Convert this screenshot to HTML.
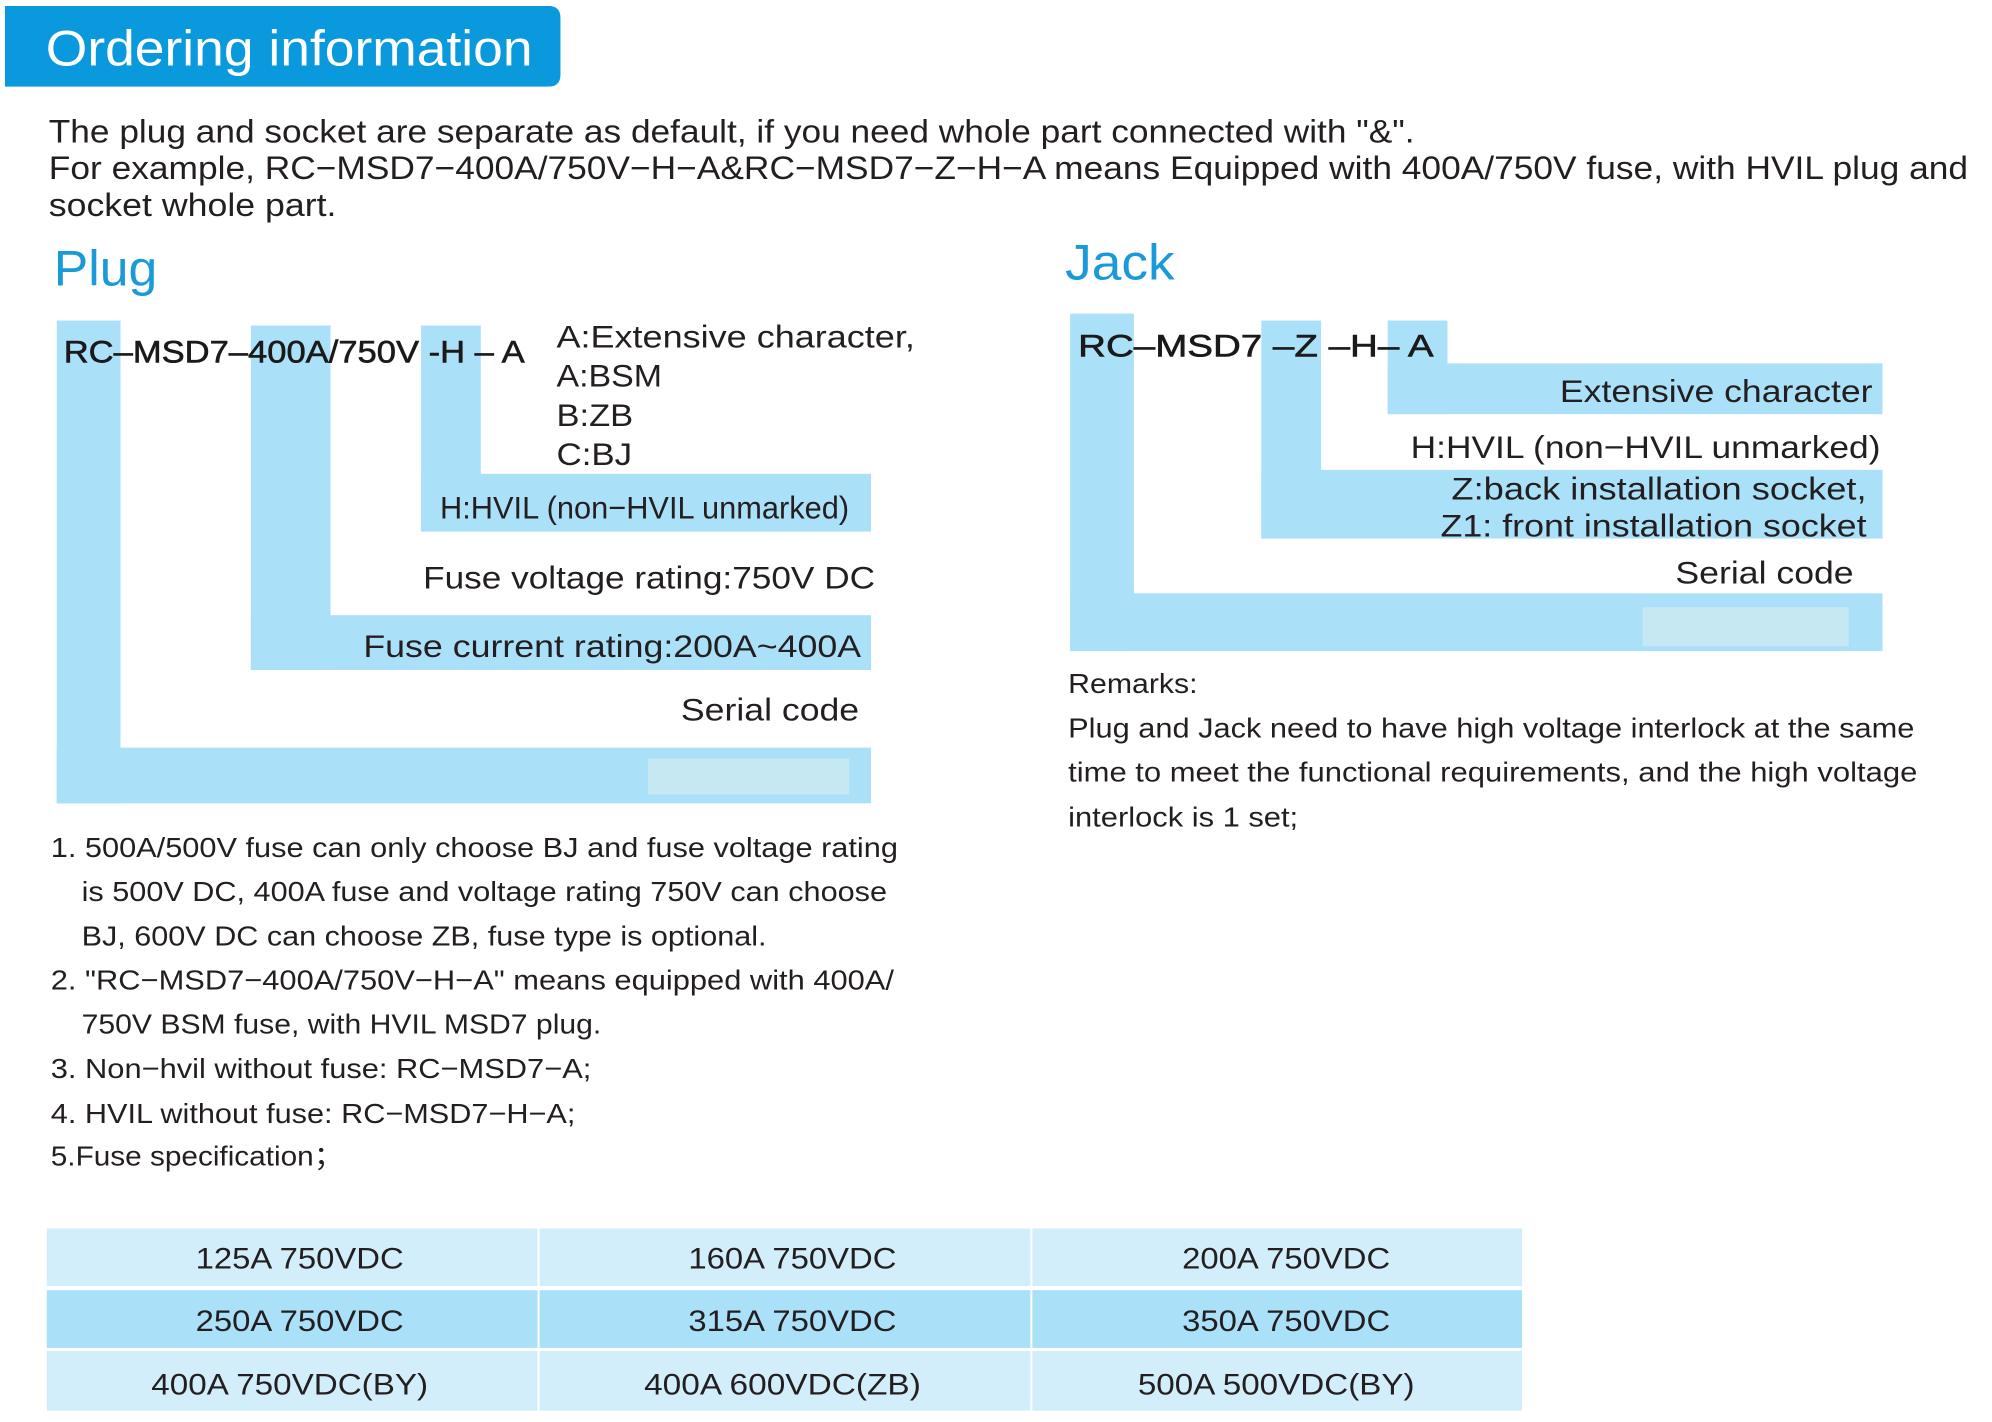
<!DOCTYPE html>
<html><head><meta charset="utf-8"><style>
html,body{margin:0;padding:0;background:#fff;}
svg{display:block;}
text{font-family:"Liberation Sans",sans-serif;fill:#231f20;}
</style></head><body>
<svg width="1992" height="1422" viewBox="0 0 1992 1422" xmlns="http://www.w3.org/2000/svg">
<rect x="0" y="0" width="1992" height="1422" fill="#fff"/>
<g transform="scale(0.9955)">
<!-- header -->
<path d="M5 6 H551 Q563 6 563 18 V75 Q563 87 551 87 H5 Z" fill="#0999dc"/>
<text x="46" y="66" font-size="50" style="fill:#fff" textLength="489" lengthAdjust="spacingAndGlyphs">Ordering information</text>

<g font-size="33">
<text x="49" y="143" textLength="1372" lengthAdjust="spacingAndGlyphs">The plug and socket are separate as default, if you need whole part connected with "&amp;".</text>
<text x="49" y="180" textLength="1928" lengthAdjust="spacingAndGlyphs">For example, RC−MSD7−400A/750V−H−A&amp;RC−MSD7−Z−H−A means Equipped with 400A/750V fuse, with HVIL plug and</text>
<text x="49" y="217" textLength="289" lengthAdjust="spacingAndGlyphs">socket whole part.</text>
</g>

<text x="54" y="287" font-size="50" style="fill:#1a9ad9" textLength="104" lengthAdjust="spacingAndGlyphs">Plug</text>
<text x="1070" y="281" font-size="50" style="fill:#1a9ad9" textLength="110" lengthAdjust="spacingAndGlyphs">Jack</text>

<!-- Plug bars -->
<g fill="#abe0f9">
<rect x="57" y="322" width="64" height="485"/>
<rect x="57" y="751" width="818" height="56"/>
<rect x="252" y="327" width="80" height="346"/>
<rect x="252" y="618" width="623" height="55"/>
<rect x="423" y="327" width="60" height="207"/>
<rect x="423" y="476" width="452" height="58"/>
</g>
<rect x="651" y="762" width="202" height="36" fill="#c6e8f3"/>

<g font-size="32">
<text x="64" y="364" textLength="463" lengthAdjust="spacingAndGlyphs" style="fill:#1a1a1a;stroke:#1a1a1a;stroke-width:0.6">RC–MSD7–400A/750V -H – A</text>
<text x="559" y="349" textLength="360" lengthAdjust="spacingAndGlyphs">A:Extensive character,</text>
<text x="559" y="388" textLength="106" lengthAdjust="spacingAndGlyphs">A:BSM</text>
<text x="559" y="428" textLength="77" lengthAdjust="spacingAndGlyphs">B:ZB</text>
<text x="559" y="467" textLength="76" lengthAdjust="spacingAndGlyphs">C:BJ</text>
<text x="442" y="521" textLength="411" lengthAdjust="spacingAndGlyphs">H:HVIL (non−HVIL unmarked)</text>
<text x="425" y="591" textLength="454" lengthAdjust="spacingAndGlyphs">Fuse voltage rating:750V DC</text>
<text x="365" y="660" textLength="500" lengthAdjust="spacingAndGlyphs">Fuse current rating:200A~400A</text>
<text x="684" y="724" textLength="179" lengthAdjust="spacingAndGlyphs">Serial code</text>
</g>

<!-- Jack bars -->
<g fill="#abe0f9">
<rect x="1075" y="315" width="64" height="339"/>
<rect x="1075" y="596" width="816" height="58"/>
<rect x="1267" y="322" width="60" height="219"/>
<rect x="1267" y="472" width="624" height="69"/>
<rect x="1394" y="322" width="60" height="94"/>
<rect x="1394" y="365" width="497" height="51"/>
</g>
<rect x="1650" y="610" width="207" height="39" fill="#c6e8f3"/>

<g font-size="32">
<text x="1083" y="358" textLength="357" lengthAdjust="spacingAndGlyphs" style="fill:#1a1a1a;stroke:#1a1a1a;stroke-width:0.6">RC–MSD7 –Z –H– A</text>
<text x="1567" y="404" textLength="314" lengthAdjust="spacingAndGlyphs">Extensive character</text>
<text x="1417" y="460" textLength="472" lengthAdjust="spacingAndGlyphs">H:HVIL (non−HVIL unmarked)</text>
<text x="1458" y="502" textLength="417" lengthAdjust="spacingAndGlyphs">Z:back installation socket,</text>
<text x="1447" y="539" textLength="428" lengthAdjust="spacingAndGlyphs">Z1: front installation socket</text>
<text x="1683" y="586" textLength="179" lengthAdjust="spacingAndGlyphs">Serial code</text>
</g>

<g font-size="28">
<text x="1073" y="696" textLength="130" lengthAdjust="spacingAndGlyphs">Remarks:</text>
<text x="1073" y="741" textLength="850" lengthAdjust="spacingAndGlyphs">Plug and Jack need to have high voltage interlock at the same</text>
<text x="1073" y="785" textLength="853" lengthAdjust="spacingAndGlyphs">time to meet the functional requirements, and the high voltage</text>
<text x="1073" y="830" textLength="231" lengthAdjust="spacingAndGlyphs">interlock is 1 set;</text>

<text x="51" y="861" textLength="851" lengthAdjust="spacingAndGlyphs">1. 500A/500V fuse can only choose BJ and fuse voltage rating</text>
<text x="82" y="905" textLength="809" lengthAdjust="spacingAndGlyphs">is 500V DC, 400A fuse and voltage rating 750V can choose</text>
<text x="82" y="950" textLength="688" lengthAdjust="spacingAndGlyphs">BJ, 600V DC can choose ZB, fuse type is optional.</text>
<text x="51" y="994" textLength="847" lengthAdjust="spacingAndGlyphs">2. "RC−MSD7−400A/750V−H−A" means equipped with 400A/</text>
<text x="82" y="1038" textLength="522" lengthAdjust="spacingAndGlyphs">750V BSM fuse, with HVIL MSD7 plug.</text>
<text x="51" y="1083" textLength="543" lengthAdjust="spacingAndGlyphs">3. Non−hvil without fuse: RC−MSD7−A;</text>
<text x="51" y="1128" textLength="527" lengthAdjust="spacingAndGlyphs">4. HVIL without fuse: RC−MSD7−H−A;</text>
<text x="51" y="1171" textLength="294" lengthAdjust="spacingAndGlyphs">5.Fuse specification；</text>
</g>

<!-- table -->
<g>
<rect x="47" y="1234" width="493" height="58" fill="#d3eefb"/>
<rect x="542" y="1234" width="493" height="58" fill="#d3eefb"/>
<rect x="1037" y="1234" width="492" height="58" fill="#d3eefb"/>
<rect x="47" y="1296" width="493" height="58" fill="#abe0f9"/>
<rect x="542" y="1296" width="493" height="58" fill="#abe0f9"/>
<rect x="1037" y="1296" width="492" height="58" fill="#abe0f9"/>
<rect x="47" y="1357" width="493" height="60" fill="#d3eefb"/>
<rect x="542" y="1357" width="493" height="60" fill="#d3eefb"/>
<rect x="1037" y="1357" width="492" height="60" fill="#d3eefb"/>
</g>
<g font-size="30" text-anchor="middle">
<text x="301" y="1274" textLength="209" lengthAdjust="spacingAndGlyphs">125A 750VDC</text>
<text x="796" y="1274" textLength="209" lengthAdjust="spacingAndGlyphs">160A 750VDC</text>
<text x="1292" y="1274" textLength="209" lengthAdjust="spacingAndGlyphs">200A 750VDC</text>
<text x="301" y="1337" textLength="209" lengthAdjust="spacingAndGlyphs">250A 750VDC</text>
<text x="796" y="1337" textLength="209" lengthAdjust="spacingAndGlyphs">315A 750VDC</text>
<text x="1292" y="1337" textLength="209" lengthAdjust="spacingAndGlyphs">350A 750VDC</text>
<text x="291" y="1401" textLength="278" lengthAdjust="spacingAndGlyphs">400A 750VDC(BY)</text>
<text x="786" y="1401" textLength="278" lengthAdjust="spacingAndGlyphs">400A 600VDC(ZB)</text>
<text x="1282" y="1401" textLength="278" lengthAdjust="spacingAndGlyphs">500A 500VDC(BY)</text>
</g>
</g>
</svg>
</body></html>
